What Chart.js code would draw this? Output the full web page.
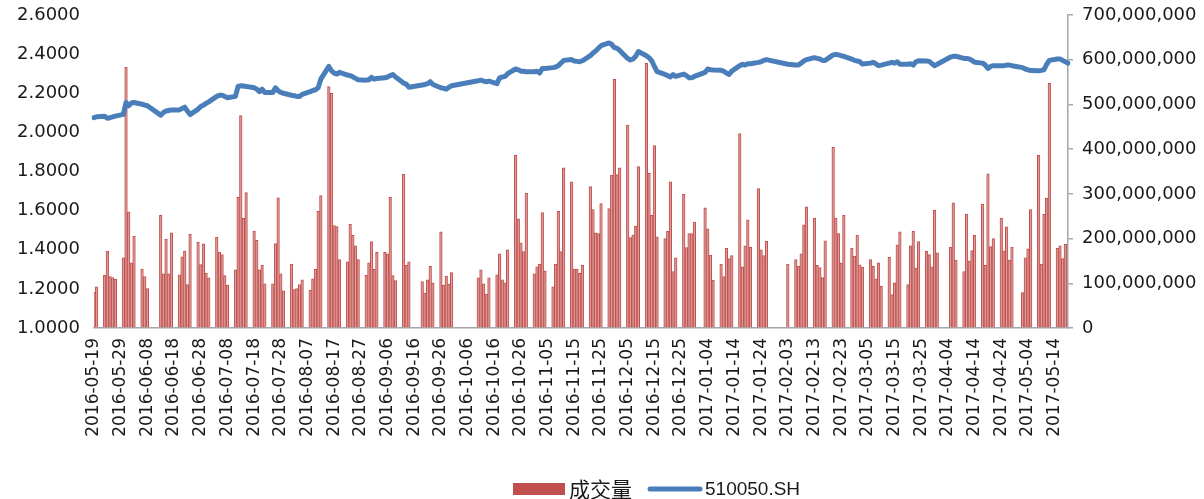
<!DOCTYPE html>
<html>
<head>
<meta charset="utf-8">
<script src="https://cdn.jsdelivr.net/npm/chart.js@4.4.0/dist/chart.umd.min.js"></script>
<style>
  html, body { margin: 0; padding: 0; background: #ffffff; }
  canvas { display: block; }
</style>
</head>
<body>
<canvas id="chart" width="1204" height="499"></canvas>
<script>
// Trading days of 510050.SH, 2016-05-19 .. 2017-05-19
const tradeDates = [
  '2016-05-19','2016-05-20','2016-05-23','2016-05-24','2016-05-25','2016-05-26','2016-05-27','2016-05-30','2016-05-31',
  '2016-06-01','2016-06-02','2016-06-03','2016-06-06','2016-06-07','2016-06-08','2016-06-13','2016-06-14','2016-06-15','2016-06-16',
  '2016-06-17','2016-06-20','2016-06-21','2016-06-22','2016-06-23','2016-06-24','2016-06-27','2016-06-28','2016-06-29','2016-06-30',
  '2016-07-01','2016-07-04','2016-07-05','2016-07-06','2016-07-07','2016-07-08','2016-07-11','2016-07-12','2016-07-13','2016-07-14',
  '2016-07-15','2016-07-18','2016-07-19','2016-07-20','2016-07-21','2016-07-22','2016-07-25','2016-07-26','2016-07-27','2016-07-28','2016-07-29',
  '2016-08-01','2016-08-02','2016-08-03','2016-08-04','2016-08-05','2016-08-08','2016-08-09','2016-08-10','2016-08-11','2016-08-12',
  '2016-08-15','2016-08-16','2016-08-17','2016-08-18','2016-08-19','2016-08-22','2016-08-23','2016-08-24','2016-08-25','2016-08-26',
  '2016-08-29','2016-08-30','2016-08-31',
  '2016-09-01','2016-09-02','2016-09-05','2016-09-06','2016-09-07','2016-09-08','2016-09-09','2016-09-12','2016-09-13','2016-09-14',
  '2016-09-19','2016-09-20','2016-09-21','2016-09-22','2016-09-23','2016-09-26','2016-09-27','2016-09-28','2016-09-29','2016-09-30',
  '2016-10-10','2016-10-11','2016-10-12','2016-10-13','2016-10-14','2016-10-17','2016-10-18','2016-10-19','2016-10-20','2016-10-21',
  '2016-10-24','2016-10-25','2016-10-26','2016-10-27','2016-10-28','2016-10-31',
  '2016-11-01','2016-11-02','2016-11-03','2016-11-04','2016-11-07','2016-11-08','2016-11-09','2016-11-10','2016-11-11','2016-11-14',
  '2016-11-15','2016-11-16','2016-11-17','2016-11-18','2016-11-21','2016-11-22','2016-11-23','2016-11-24','2016-11-25','2016-11-28',
  '2016-11-29','2016-11-30',
  '2016-12-01','2016-12-02','2016-12-05','2016-12-06','2016-12-07','2016-12-08','2016-12-09','2016-12-12','2016-12-13','2016-12-14',
  '2016-12-15','2016-12-16','2016-12-19','2016-12-20','2016-12-21','2016-12-22','2016-12-23','2016-12-26','2016-12-27','2016-12-28',
  '2016-12-29','2016-12-30',
  '2017-01-03','2017-01-04','2017-01-05','2017-01-06','2017-01-09','2017-01-10','2017-01-11','2017-01-12','2017-01-13','2017-01-16',
  '2017-01-17','2017-01-18','2017-01-19','2017-01-20','2017-01-23','2017-01-24','2017-01-25','2017-01-26',
  '2017-02-03','2017-02-06','2017-02-07','2017-02-08','2017-02-09','2017-02-10','2017-02-13','2017-02-14','2017-02-15','2017-02-16',
  '2017-02-17','2017-02-20','2017-02-21','2017-02-22','2017-02-23','2017-02-24','2017-02-27','2017-02-28',
  '2017-03-01','2017-03-02','2017-03-03','2017-03-06','2017-03-07','2017-03-08','2017-03-09','2017-03-10','2017-03-13','2017-03-14',
  '2017-03-15','2017-03-16','2017-03-17','2017-03-20','2017-03-21','2017-03-22','2017-03-23','2017-03-24','2017-03-27','2017-03-28',
  '2017-03-29','2017-03-30','2017-03-31',
  '2017-04-05','2017-04-06','2017-04-07','2017-04-10','2017-04-11','2017-04-12','2017-04-13','2017-04-14','2017-04-17','2017-04-18',
  '2017-04-19','2017-04-20','2017-04-21','2017-04-24','2017-04-25','2017-04-26','2017-04-27','2017-04-28',
  '2017-05-02','2017-05-03','2017-05-04','2017-05-05','2017-05-08','2017-05-09','2017-05-10','2017-05-11','2017-05-12','2017-05-15',
  '2017-05-16','2017-05-17','2017-05-18','2017-05-19'
];

// 成交量 (shares)
const volume = [
  80e6, 92e6, 118e6, 172e6, 115e6, 113e6, 109e6, 157e6, 583e6,
  260e6, 146e6, 205e6, 132e6, 115e6, 88e6, 252e6, 121e6, 199e6, 121e6,
  213e6, 119e6, 159e6, 172e6, 97e6, 210e6, 192e6, 142e6, 188e6, 123e6,
  112e6, 203e6, 170e6, 164e6, 117e6, 96e6, 130e6, 292e6, 475e6, 245e6,
  303e6, 217e6, 196e6, 130e6, 140e6, 99e6, 99e6, 189e6, 291e6, 121e6, 83e6,
  143e6, 86e6, 88e6, 97e6, 108e6, 85e6, 110e6, 131e6, 261e6, 296e6,
  540e6, 525e6, 229e6, 227e6, 153e6, 148e6, 232e6, 207e6, 184e6, 153e6,
  118e6, 146e6, 193e6,
  131e6, 169e6, 169e6, 166e6, 292e6, 117e6, 106e6, 344e6, 140e6, 148e6,
  104e6, 78e6, 108e6, 138e6, 101e6, 215e6, 96e6, 116e6, 98e6, 124e6,
  112e6, 130e6, 99e6, 76e6, 112e6, 119e6, 166e6, 108e6, 101e6, 175e6,
  387e6, 244e6, 190e6, 171e6, 301e6, 121e6,
  137e6, 143e6, 258e6, 128e6, 92e6, 143e6, 261e6, 171e6, 358e6, 327e6,
  132e6, 132e6, 122e6, 140e6, 316e6, 265e6, 213e6, 211e6, 278e6, 267e6,
  342e6, 556e6,
  343e6, 358e6, 454e6, 202e6, 208e6, 228e6, 361e6, 592e6, 346e6, 252e6,
  408e6, 204e6, 200e6, 216e6, 327e6, 126e6, 157e6, 299e6, 180e6, 211e6,
  211e6, 237e6,
  269e6, 222e6, 163e6, 107e6, 143e6, 115e6, 178e6, 155e6, 162e6, 435e6,
  137e6, 184e6, 242e6, 181e6, 312e6, 175e6, 162e6, 194e6,
  143e6, 153e6, 138e6, 166e6, 231e6, 271e6, 246e6, 140e6, 135e6, 113e6,
  195e6, 404e6, 246e6, 211e6, 146e6, 252e6, 179e6, 161e6,
  208e6, 141e6, 136e6, 153e6, 138e6, 110e6, 146e6, 93e6, 158e6, 75e6,
  101e6, 186e6, 215e6, 97e6, 184e6, 216e6, 134e6, 193e6, 172e6, 164e6,
  137e6, 263e6, 168e6,
  181e6, 280e6, 152e6, 126e6, 255e6, 150e6, 173e6, 208e6, 277e6, 140e6,
  345e6, 182e6, 200e6, 246e6, 172e6, 226e6, 152e6, 181e6,
  79e6, 157e6, 177e6, 265e6, 387e6, 143e6, 254e6, 290e6, 547e6, 178e6,
  184e6, 155e6, 187e6, null
];

// 510050.SH close
const closePrice = [
  2.075, 2.080, 2.082, 2.072, 2.075, 2.079, 2.083, 2.092, 2.153,
  2.136, 2.150, 2.153, 2.144, 2.139, 2.136, 2.088, 2.102, 2.109, 2.112,
  2.115, 2.115, 2.122, 2.129, 2.109, 2.091, 2.119, 2.132, 2.139, 2.148,
  2.156, 2.184, 2.190, 2.190, 2.184, 2.177, 2.184, 2.235, 2.238, 2.237,
  2.235, 2.228, 2.221, 2.208, 2.221, 2.204, 2.204, 2.228, 2.213, 2.204, 2.200,
  2.190, 2.187, 2.184, 2.184, 2.194, 2.208, 2.214, 2.218, 2.228, 2.272,
  2.337, 2.315, 2.303, 2.298, 2.307, 2.293, 2.290, 2.284, 2.276, 2.269,
  2.267, 2.269, 2.281,
  2.272, 2.276, 2.279, 2.283, 2.290, 2.296, 2.283, 2.252, 2.247, 2.231,
  2.242, 2.245, 2.249, 2.259, 2.245, 2.228, 2.225, 2.221, 2.231, 2.238,
  2.264, 2.267, 2.262, 2.259, 2.262, 2.249, 2.279, 2.283, 2.286, 2.300,
  2.324, 2.320, 2.313, 2.312, 2.310, 2.310,
  2.313, 2.303, 2.327, 2.327, 2.331, 2.334, 2.341, 2.354, 2.368, 2.372,
  2.365, 2.363, 2.361, 2.366, 2.392, 2.406, 2.416, 2.430, 2.443, 2.457,
  2.450, 2.433,
  2.430, 2.419, 2.378, 2.370, 2.375, 2.389, 2.413, 2.392, 2.382, 2.366,
  2.337, 2.310, 2.296, 2.290, 2.283, 2.296, 2.286, 2.298, 2.290, 2.279,
  2.279, 2.286,
  2.307, 2.324, 2.320, 2.319, 2.317, 2.313, 2.303, 2.296, 2.313, 2.341,
  2.348, 2.344, 2.351, 2.351, 2.358, 2.361, 2.368, 2.372,
  2.348, 2.344, 2.344, 2.354, 2.365, 2.372, 2.382, 2.378, 2.375, 2.368,
  2.368, 2.396, 2.399, 2.396, 2.392, 2.389, 2.375, 2.368,
  2.365, 2.361, 2.349, 2.354, 2.358, 2.351, 2.341, 2.344, 2.354, 2.358,
  2.354, 2.361, 2.348, 2.348, 2.351, 2.344, 2.361, 2.366, 2.365, 2.363,
  2.351, 2.341, 2.348,
  2.385, 2.389, 2.389, 2.378, 2.378, 2.375, 2.368, 2.358, 2.354, 2.344,
  2.327, 2.337, 2.341, 2.341, 2.341, 2.344, 2.344, 2.341,
  2.331, 2.324, 2.320, 2.316, 2.315, 2.317, 2.320, 2.348, 2.368, 2.375,
  2.375, 2.368, 2.361, 2.354
];

const axisStart = '2016-05-19';
const axisEnd = '2017-05-19';
const labelEvery = 10;

const leftTicks = [1.0, 1.2, 1.4, 1.6, 1.8, 2.0, 2.2, 2.4, 2.6];
const rightTicks = [0, 1e8, 2e8, 3e8, 4e8, 5e8, 6e8, 7e8];

const barColor = '#C0504D';
const barFill = '#DE9C9A';
const lineColor = '#4A7EBB';
const axisColor = '#A6A6A6';
const textColor = '#1A1A1A';
const fontFamily = '"DejaVu Sans", Verdana, sans-serif';

// Calendar-day categories (the axis runs on every calendar day)
function isoDay(d) { return d.toISOString().slice(0, 10); }
const days = [];
for (let t = Date.parse(axisStart + 'T00:00:00Z'); t <= Date.parse(axisEnd + 'T00:00:00Z'); t += 86400000) {
  days.push(isoDay(new Date(t)));
}
const volByDay = new Map(tradeDates.map((d, i) => [d, volume[i]]));
const closeByDay = new Map(tradeDates.map((d, i) => [d, closePrice[i]]));
const volSeries = days.map(d => volByDay.has(d) ? volByDay.get(d) : null);
const closeSeries = days.map(d => closeByDay.has(d) ? closeByDay.get(d) : null);

const legendItems = [
  { text: '成交量', color: barColor },
  { text: '510050.SH', color: lineColor }
];

// Legend row under the axis labels
const bottomLegend = {
  id: 'bottomLegend',
  afterDraw(chart) {
    const c = chart.ctx;
    const y = 489;
    c.save();
    c.textBaseline = 'middle';
    c.fillStyle = legendItems[0].color;
    c.fillRect(513, 483, 52, 12);
    c.fillStyle = textColor;
    c.font = '21px "Noto Sans CJK SC", sans-serif';
    c.fillText(legendItems[0].text, 569, y);
    c.strokeStyle = legendItems[1].color;
    c.lineWidth = 5;
    c.lineCap = 'round';
    c.beginPath();
    c.moveTo(650, y);
    c.lineTo(700, y);
    c.stroke();
    c.font = '19px "Liberation Sans", Arial, sans-serif';
    c.fillText(legendItems[1].text, 705, y + 1);
    c.restore();
  }
};

// keep the plot top fixed by the layout padding rather than label overflow
function noVerticalOverflow(scale) {
  scale.paddingTop = 0;
  scale.paddingBottom = 0;
}

Chart.defaults.font.family = fontFamily;
Chart.defaults.font.size = 18;
Chart.defaults.color = textColor;

new Chart(document.getElementById('chart'), {
  type: 'bar',
  data: {
    labels: days,
    datasets: [
      {
        type: 'line',
        label: legendItems[1].text,
        data: closeSeries,
        yAxisID: 'yL',
        borderColor: lineColor,
        borderWidth: 5,
        pointRadius: 0,
        tension: 0,
        spanGaps: true,
        borderJoinStyle: 'round',
        borderCapStyle: 'round',
        order: 0
      },
      {
        type: 'bar',
        label: legendItems[0].text,
        data: volSeries,
        yAxisID: 'yR',
        backgroundColor: barFill,
        borderColor: barColor,
        borderWidth: { left: 1, right: 1, top: 1, bottom: 0 },
        barThickness: 2.6,
        order: 1
      }
    ]
  },
  options: {
    responsive: false,
    animation: false,
    layout: { padding: { top: 15, left: 0, right: 0, bottom: 0 } },
    plugins: { legend: { display: false }, tooltip: { enabled: false } },
    scales: {
      x: {
        type: 'category',
        offset: false,
        grid: { display: false, drawTicks: false },
        border: { display: true, color: axisColor, width: 1.5 },
        ticks: {
          autoSkip: false,
          minRotation: 90,
          maxRotation: 90,
          padding: 10,
          font: { size: 17 },
          callback(value, index) {
            return index % labelEvery === 0 ? this.getLabelForValue(value) : '';
          }
        },
        afterFit(scale) { scale.height = 171; }
      },
      yL: {
        position: 'left',
        min: leftTicks[0],
        max: leftTicks[leftTicks.length - 1],
        afterBuildTicks(scale) { scale.ticks = leftTicks.map(v => ({ value: v })); },
        ticks: { padding: 14, callback: v => Number(v).toFixed(4) },
        grid: { display: false, drawTicks: false },
        border: { display: false },
        afterFit(scale) { scale.width = 94; noVerticalOverflow(scale); }
      },
      yR: {
        position: 'right',
        min: rightTicks[0],
        max: rightTicks[rightTicks.length - 1],
        afterBuildTicks(scale) { scale.ticks = rightTicks.map(v => ({ value: v })); },
        ticks: { padding: 9, callback: v => Number(v).toLocaleString('en-US') },
        grid: { drawOnChartArea: false, drawTicks: true, tickLength: 5, color: axisColor, lineWidth: 1.5 },
        border: { display: true, color: axisColor, width: 1.5 },
        afterFit(scale) { scale.width = 136; noVerticalOverflow(scale); }
      }
    }
  },
  plugins: [bottomLegend]
});
</script>
</body>
</html>
